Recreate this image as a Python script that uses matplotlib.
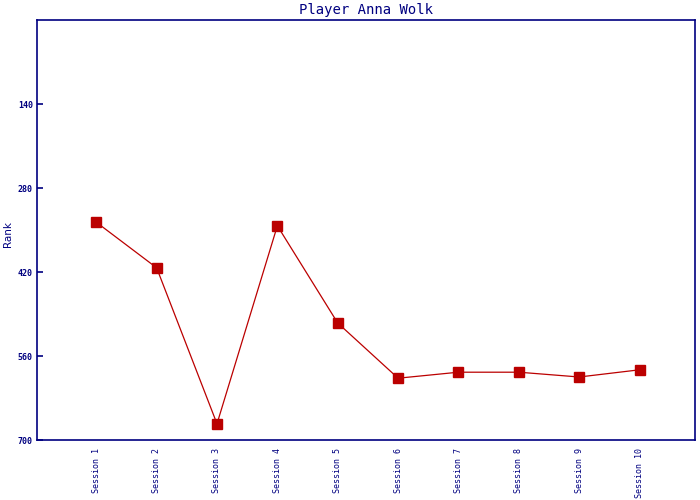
import matplotlib
matplotlib.use("Agg")
import matplotlib.pyplot as plt

# ranks per session
sessions = ["Session 1", "Session 2", "Session 3", "Session 4", "Session 5",
            "Session 6", "Session 7", "Session 8", "Session 9", "Session 10"]
ranks = [337, 413, 673, 343, 505, 597, 587, 587, 595, 583]
yticks = [140, 280, 420, 560, 700]

navy = "#000080"
red = "#bb0000"

fig = plt.figure(figsize=(7, 5), dpi=100)
ax = fig.add_axes([0.053, 0.12, 0.94, 0.84])

x = list(range(1, len(sessions) + 1))
ax.plot(x, ranks, color=red, linewidth=0.9, marker="s", markersize=6.5,
        markerfacecolor=red, markeredgecolor=red)

ax.set_xlim(0.02, 10.92)
ax.set_ylim(700, 0)
ax.set_yticks(yticks)
ax.set_yticklabels([str(v) for v in yticks], fontsize=6, fontweight="bold",
                   family="DejaVu Sans Mono", color=navy)
ax.set_xticks(x)
ax.set_xticklabels(sessions, rotation=90, fontsize=6, family="DejaVu Sans Mono",
                   color=navy)
ax.tick_params(axis="x", length=0, pad=6)
ax.tick_params(axis="y", direction="in", length=4, width=1.2, color=navy, pad=3)

for s in ax.spines.values():
    s.set_color(navy)
    s.set_linewidth(1.2)

ax.set_title("Player Anna Wolk", fontsize=10, family="DejaVu Sans Mono",
             color=navy, pad=4)
ax.set_ylabel("Rank", fontsize=7.5, color=navy)
ax.yaxis.set_label_coords(-0.036, 0.49)

fig.savefig("out.png", dpi=100)
